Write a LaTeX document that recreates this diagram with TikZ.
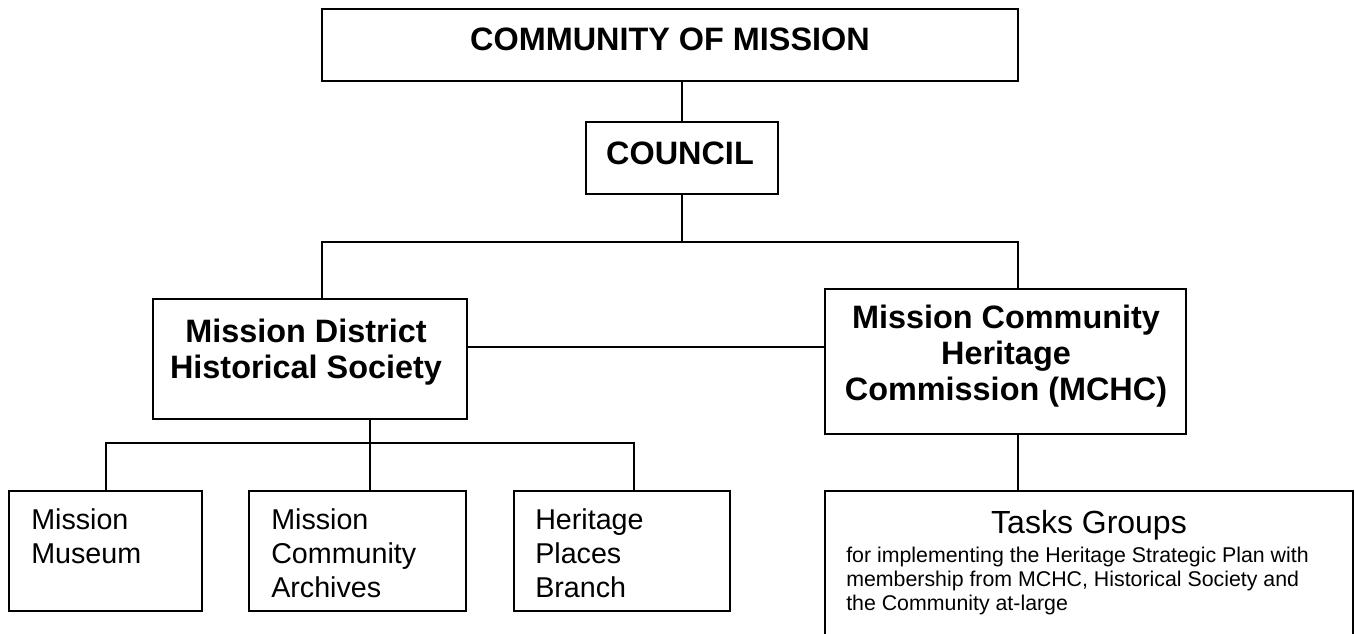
\documentclass[tikz,border=0pt]{standalone}
\usepackage{fontspec}
\setmainfont{Liberation Sans}
\usetikzlibrary{fit}
\begin{document}
\begin{tikzpicture}[x=0.75pt,y=-0.75pt,
  box/.style={draw,line width=1.4pt,rectangle,inner sep=0pt},
  topbox/.style={box,line width=2pt},
  conn/.style={line width=1.4pt},
  bigb/.style={font=\fontsize{24.3}{27}\selectfont\bfseries,anchor=base,inner sep=0pt},
  reg/.style={font=\fontsize{21.5}{25}\selectfont,anchor=base west,inner sep=0pt},
  taskt/.style={font=\fontsize{24}{27}\selectfont,anchor=base,inner sep=0pt},
  small/.style={font=\fontsize{16}{18}\selectfont,anchor=base west,inner sep=0pt}]
\useasboundingbox (0,0) rectangle (1355,633);
% boxes
\node[topbox,fit={(322,9) (1018,81)}] (top) {};
\node[topbox,fit={(586,122) (778,194)}] (council) {};
\node[box,fit={(153,299) (467,419)}] (mdhs) {};
\node[box,fit={(825,289) (1186,434)}] (mchc) {};
\node[box,fit={(9,491) (202,611)}] (museum) {};
\node[box,fit={(249,491) (466,611)}] (archives) {};
\node[box,fit={(514,491) (730,611)}] (heritage) {};
\node[box,fit={(825,491) (1353,700)}] (tasks) {};
% texts
\node[bigb] (ttop) at (670,50) {COMMUNITY OF MISSION};
\node[bigb] (tcouncil) at (680,164) {COUNCIL};
\node[bigb] (tm1) at (306,342) {Mission District};
\node[bigb] (tm2) at (306,378) {Historical Society};
\node[bigb] (tc1) at (1006,328) {Mission Community};
\node[bigb] (tc2) at (1006,364) {Heritage};
\node[bigb] (tc3) at (1006,400) {Commission (MCHC)};
\node[reg] (mu1) at (31,529) {Mission};
\node[reg] (mu2) at (31,563) {Museum};
\node[reg] (ar1) at (271,529) {Mission};
\node[reg] (ar2) at (271,563) {Community};
\node[reg] (ar3) at (271,597) {Archives};
\node[reg] (he1) at (535,529) {Heritage};
\node[reg] (he2) at (535,563) {Places};
\node[reg] (he3) at (535,597) {Branch};
\node[taskt] (tg) at (1089,533) {Tasks Groups};
\node[small] (tg1) at (846,562) {for implementing the Heritage Strategic Plan with};
\node[small] (tg2) at (846,586) {membership from MCHC, Historical Society and};
\node[small] (tg3) at (846,610) {the Community at-large};
% connectors
\coordinate (busL) at (322,242);
\coordinate (busR) at (1018,242);
\coordinate (b2L) at (106,443);
\coordinate (b2M) at (370,443);
\coordinate (b2R) at (634,443);
\draw[conn] (council.north) -- (council.north |- top.south);
\draw[conn] (council.south) -- (council.south |- busL);
\draw[conn] (busL |- mdhs.north) -- (busL) -- (busR) -- (busR |- mchc.north);
\draw[conn] (mdhs.east |- 0,347) -- (mchc.west |- 0,347);
\draw[conn] (b2M |- mdhs.south) -- (b2M |- archives.north);
\draw[conn] (b2L |- museum.north) -- (b2L) -- (b2R) -- (b2R |- heritage.north);
\draw[conn] (busR |- mchc.south) -- (busR |- tasks.north);
\end{tikzpicture}
\end{document}
